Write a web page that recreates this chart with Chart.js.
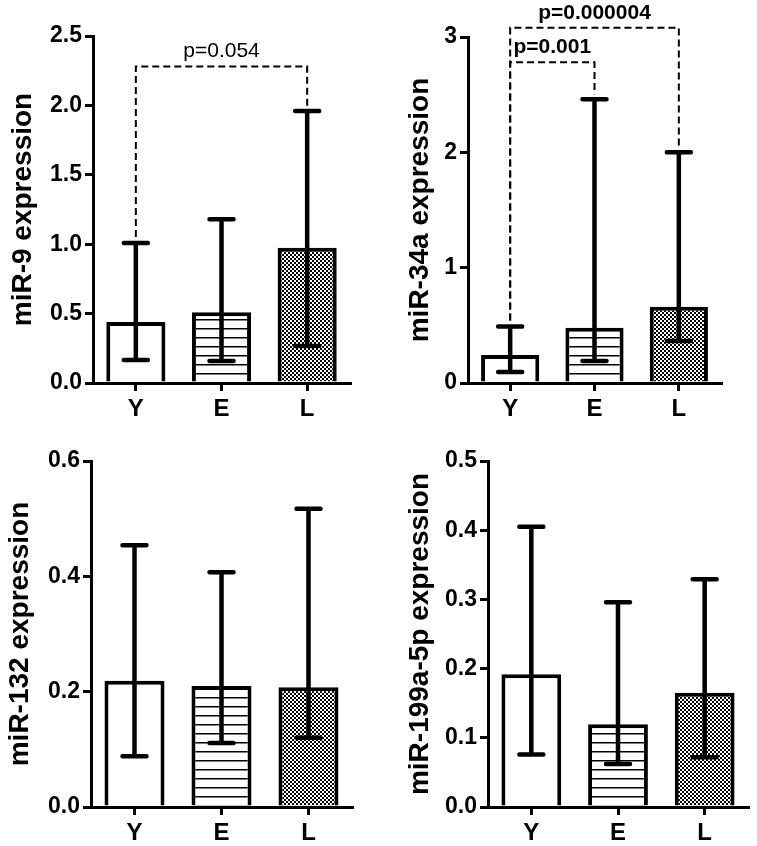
<!DOCTYPE html>
<html>
<head>
<meta charset="utf-8">
<script src="https://cdn.jsdelivr.net/npm/chart.js@4.4.0/dist/chart.umd.min.js"></script>
<style>
  body { margin: 0; background: #fff; }
  #page { position: relative; width: 757px; height: 846px; }
  canvas { position: absolute; }
</style>
</head>
<body>
<div id="page">
  <canvas id="c-mir9" width="378" height="423" style="left:0;top:0"></canvas>
  <canvas id="c-mir34a" width="379" height="423" style="left:378px;top:0"></canvas>
  <canvas id="c-mir132" width="378" height="423" style="left:0;top:423px"></canvas>
  <canvas id="c-mir199" width="379" height="423" style="left:378px;top:423px"></canvas>
</div>
<script>
// --- datos ---
const groups = ['Y', 'E', 'L'];

const mir9Mean = [0.44, 0.51, 0.975];
const mir9Low = [0.165, 0.158, 0.267];
const mir9High = [1.008, 1.18, 1.96];
const mir9Ticks = [0, 0.5, 1.0, 1.5, 2.0, 2.5];
const mir9SigPairs = [[0, 2]];
const mir9SigLevels = [2.28];
const mir9SigLabels = ['p=0.054'];

const mir34aMean = [0.243, 0.48, 0.662];
const mir34aLow = [0.095, 0.19, 0.365];
const mir34aHigh = [0.49, 2.46, 2.0];
const mir34aTicks = [0, 1, 2, 3];
const mir34aSigPairs = [[0, 1], [0, 2]];
const mir34aSigLevels = [2.78, 3.08];
const mir34aSigLabels = ['p=0.001', 'p=0.000004'];

const mir132Mean = [0.219, 0.21, 0.2075];
const mir132Low = [0.088, 0.111, 0.12];
const mir132High = [0.454, 0.407, 0.517];
const mir132Ticks = [0, 0.2, 0.4, 0.6];

const mir199Mean = [0.192, 0.1195, 0.165];
const mir199Low = [0.076, 0.062, 0.072];
const mir199High = [0.405, 0.296, 0.329];
const mir199Ticks = [0, 0.1, 0.2, 0.3, 0.4, 0.5];

const FONT = "'Liberation Sans', Arial, sans-serif";

// --- patrones de relleno ---
function makePattern(w, h, draw) {
    const c = document.createElement('canvas');
    c.width = w; c.height = h;
    const g = c.getContext('2d');
    g.fillStyle = '#fff';
    g.fillRect(0, 0, w, h);
    g.fillStyle = '#000';
    draw(g);
    return g.createPattern(c, 'repeat');
}
const hatch = makePattern(8, 9, g => g.fillRect(0, 4, 8, 1.5));
const checker = makePattern(4, 4, g => { g.fillRect(0, 0, 2, 2); g.fillRect(2, 2, 2, 2); });

// --- plugins ---
function errorBars(low, high) {
    return {
        id: 'errorBars',
        afterDatasetsDraw(chart) {
            const { ctx, scales: { x, y } } = chart;
            ctx.save();
            ctx.strokeStyle = '#000';
            ctx.lineWidth = 4.5;
            ctx.lineCap = 'round';
            low.forEach((lo, i) => {
                const cx = x.getPixelForValue(i);
                const yl = y.getPixelForValue(lo);
                const yh = y.getPixelForValue(high[i]);
                ctx.beginPath();
                ctx.moveTo(cx, yl); ctx.lineTo(cx, yh);
                ctx.moveTo(cx - 12, yl); ctx.lineTo(cx + 12, yl);
                ctx.moveTo(cx - 12, yh); ctx.lineTo(cx + 12, yh);
                ctx.stroke();
            });
            ctx.restore();
        }
    };
}

function sigBrackets(pairs, levels, labels, high, bold) {
    return {
        id: 'sigBrackets',
        afterDraw(chart) {
            const { ctx, scales: { x, y } } = chart;
            ctx.save();
            ctx.strokeStyle = '#000';
            ctx.fillStyle = '#000';
            ctx.lineWidth = 2;
            ctx.font = (bold ? 'bold ' : '') + '21px ' + FONT;
            ctx.textAlign = 'center';
            ctx.textBaseline = 'middle';
            pairs.forEach(([a, b], k) => {
                const xa = x.getPixelForValue(a);
                const xb = x.getPixelForValue(b);
                const yl = y.getPixelForValue(levels[k]);
                ctx.setLineDash([7, 4]);
                ctx.beginPath();
                ctx.moveTo(xa, y.getPixelForValue(high[a]) - 6);
                ctx.lineTo(xa, yl);
                ctx.lineTo(xb, yl);
                ctx.lineTo(xb, y.getPixelForValue(high[b]) - 5);
                ctx.stroke();
                ctx.setLineDash([]);
                ctx.fillText(labels[k], (xa + xb) / 2, yl - 15);
            });
            ctx.restore();
        }
    };
}

// --- crear gráfico ---
function createPanel(id, p) {
    const decimals = p.decimals;
    const plugins = [errorBars(p.low, p.high)];
    if (p.sigPairs) plugins.push(sigBrackets(p.sigPairs, p.sigLevels, p.sigLabels, p.high, p.sigBold));

    return new Chart(document.getElementById(id), {
        type: 'bar',
        data: {
            labels: groups,
            datasets: [{
                data: p.mean,
                backgroundColor: ['#fff', hatch, checker],
                borderColor: '#000',
                borderWidth: 4,
                borderSkipped: 'start',
                barPercentage: 0.69,
                categoryPercentage: 1
            }]
        },
        options: {
            responsive: false,
            animation: false,
            devicePixelRatio: 1,
            events: [],
            layout: { padding: { left: 0, top: p.top, right: p.right, bottom: 0 } },
            plugins: { legend: { display: false }, tooltip: { enabled: false } },
            scales: {
                x: {
                    offset: true,
                    grid: { display: true, drawOnChartArea: false, drawTicks: true, tickLength: 8, color: '#000', lineWidth: 3, offset: false },
                    border: { display: true, color: '#000', width: 3 },
                    ticks: { color: '#000', padding: 4, font: { family: FONT, size: 24, weight: 'bold' } },
                    afterFit: s => { s.height = p.bottom; }
                },
                y: {
                    min: 0,
                    max: p.ticks[p.ticks.length - 1],
                    afterBuildTicks: s => { s.ticks = p.ticks.map(v => ({ value: v })); },
                    grid: { display: true, drawOnChartArea: false, drawTicks: true, tickLength: 8, color: '#000', lineWidth: 3 },
                    border: { display: true, color: '#000', width: 3 },
                    ticks: {
                        color: '#000',
                        padding: 3,
                        font: { family: FONT, size: 23, weight: 'bold' },
                        callback: v => Number(v).toFixed(decimals)
                    },
                    title: {
                        display: true,
                        text: p.title,
                        color: '#000',
                        font: { family: FONT, size: 28, weight: 'bold' },
                        padding: { top: p.titlePad, bottom: 0 }
                    },
                    afterFit: s => { s.width = p.left; }
                }
            }
        },
        plugins: plugins
    });
}

createPanel('c-mir9', {
    mean: mir9Mean, low: mir9Low, high: mir9High, ticks: mir9Ticks, decimals: 1,
    sigPairs: mir9SigPairs, sigLevels: mir9SigLevels, sigLabels: mir9SigLabels, sigBold: false,
    title: 'miR-9 expression',
    left: 93, top: 36, right: 28, bottom: 40, titlePad: 6
});

createPanel('c-mir34a', {
    mean: mir34aMean, low: mir34aLow, high: mir34aHigh, ticks: mir34aTicks, decimals: 0,
    sigPairs: mir34aSigPairs, sigLevels: mir34aSigLevels, sigLabels: mir34aSigLabels, sigBold: true,
    title: 'miR-34a expression',
    left: 90, top: 37, right: 36, bottom: 40, titlePad: 25
});

createPanel('c-mir132', {
    mean: mir132Mean, low: mir132Low, high: mir132High, ticks: mir132Ticks, decimals: 1,
    title: 'miR-132 expression',
    left: 91, top: 38, right: 26, bottom: 39, titlePad: 3
});

createPanel('c-mir199', {
    mean: mir199Mean, low: mir199Low, high: mir199High, ticks: mir199Ticks, decimals: 1,
    title: 'miR-199a-5p expression',
    left: 110, top: 38, right: 9, bottom: 39, titlePad: 25
});
</script>
</body>
</html>
